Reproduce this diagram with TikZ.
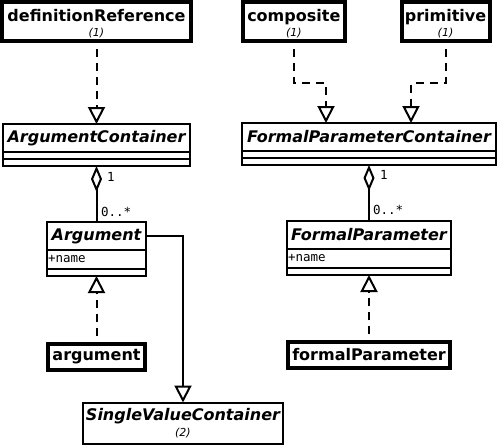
\documentclass[tikz,border=0pt]{standalone}
\usepackage{fontspec}
\setmainfont{DejaVu Sans}
\setmonofont{DejaVu Sans Mono}
\usetikzlibrary{arrows.meta,positioning}
\newcommand{\idxfont}{\fontsize{11}{12}\selectfont\mdseries\itshape}

\begin{document}
\begin{tikzpicture}[x=1pt, y=-1pt, line width=2pt,
  inst/.style={draw, line width=4pt, align=center, inner sep=0pt, font=\fontsize{16}{13}\selectfont\bfseries},
  cls/.style={draw, inner sep=0pt, outer sep=0pt, font=\fontsize{16}{13}\selectfont\bfseries\itshape},
  part/.style={draw, inner sep=0pt, outer sep=0pt, align=left, font=\fontsize{12.5}{12}\selectfont\ttfamily},
  mult/.style={inner sep=0pt, font=\fontsize{12.5}{12}\selectfont\ttfamily},
  realize/.style={dash pattern=on 8pt off 6pt, dash phase=8pt, -{Triangle[open, length=17pt, width=17pt]}},
  inherit/.style={-{Triangle[open, length=17pt, width=17pt]}},
  aggr/.style={{Diamond[open, length=26pt, width=11pt]}-}]
  \useasboundingbox (0,0) rectangle (498,447);

  % instances
  \node[inst, minimum width=189pt, minimum height=39pt] (defref) at (96.5,21.5) {\rule{0pt}{16pt}definitionReference\\[2pt]{\idxfont(1)}};
  \node[inst, minimum width=102pt, minimum height=39pt] (composite) at (293.8,21.5) {\rule{0pt}{16pt}composite\\[2pt]{\idxfont(1)}};
  \node[inst, minimum width=88pt, minimum height=39pt] (primitive) at (445.5,21.5) {\rule{0pt}{16pt}primitive\\[2pt]{\idxfont(1)}};
  \node[inst, minimum width=97pt, minimum height=26pt] (argument) at (96.5,357) {argument};
  \node[inst, minimum width=162pt, minimum height=26pt] (formalparam) at (369,355) {formalParameter};

  % classes
  \node[cls, minimum width=187pt, minimum height=28pt] (argc) at (96.5,138) {ArgumentContainer};
  \node[part, minimum width=187pt, minimum height=7pt, below=0pt of argc] (argc-a) {};
  \node[part, minimum width=187pt, minimum height=7pt, below=0pt of argc-a] (argc-o) {};

  \node[cls, minimum width=254pt, minimum height=28pt] (fpc) at (369,137) {FormalParameterContainer};
  \node[part, minimum width=254pt, minimum height=7pt, below=0pt of fpc] (fpc-a) {};
  \node[part, minimum width=254pt, minimum height=7pt, below=0pt of fpc-a] (fpc-o) {};

  \node[cls, minimum width=99pt, minimum height=28pt] (arg) at (96.5,236) {Argument};
  \node[part, text width=97pt, inner xsep=1pt, minimum height=19pt, below=0pt of arg] (arg-a) {+name};
  \node[part, minimum width=99pt, minimum height=7pt, below=0pt of arg-a] (arg-o) {};

  \node[cls, minimum width=164pt, minimum height=28pt] (fp) at (369,235) {FormalParameter};
  \node[part, text width=162pt, inner xsep=1pt, minimum height=19pt, below=0pt of fp] (fp-a) {+name};
  \node[part, minimum width=164pt, minimum height=7pt, below=0pt of fp-a] (fp-o) {};

  \node[cls, align=center, minimum width=200pt, minimum height=41pt] (svc) at (183,423) {SingleValueContainer\\[3pt]{\idxfont(2)}};

  % multiplicities
  \node[mult, anchor=west] (argc-m1) at (106,177) {1};
  \node[mult, anchor=west] (argc-m2) at (100,212) {0..*};
  \node[mult, anchor=west] (fpc-m1) at (379,175) {1};
  \node[mult, anchor=west] (fpc-m2) at (372,210) {0..*};

  % relations
  \draw[realize] (defref.south) -- (argc.north);
  \draw[realize] (composite.south) -- ++(0,40) -| ([xshift=-43pt]fpc.north);
  \draw[realize] (primitive.south) -- ++(0,40) -| ([xshift=42pt]fpc.north);
  \draw[aggr] (argc-o.south) -- (arg.north);
  \draw[aggr] (fpc-o.south) -- (fp.north);
  \draw[realize] (argument.north) -- (arg-o.south);
  \draw[realize] (formalparam.north) -- (fp-o.south);
  \draw[inherit] (arg.east) -| (svc.north);
\end{tikzpicture}
\end{document}
